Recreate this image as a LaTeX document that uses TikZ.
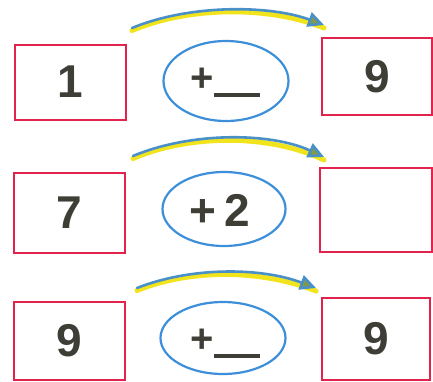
\documentclass[tikz,border=0pt]{standalone}
\usepackage{fontspec}
\setmainfont{Liberation Sans}
\usetikzlibrary{arrows.meta,shapes.geometric}
\definecolor{boxred}{HTML}{E2234E}
\definecolor{ellblue}{HTML}{3C8FD8}
\definecolor{arrblue}{HTML}{4A90C8}
\definecolor{glow}{HTML}{F2E41C}
\definecolor{digit}{HTML}{3E3E36}
\definecolor{tipfill}{HTML}{7E9A4A}
\begin{document}
\begin{tikzpicture}[x=1pt,y=1pt,
  numbox/.style={draw=boxred,line width=2.8pt,fill=white,inner sep=0pt},
  opell/.style={draw=ellblue,line width=2.2pt,ellipse,inner sep=0pt},
  num/.style={font=\fontsize{46}{46}\selectfont\bfseries,text=digit},
  glowline/.style={glow,line width=5pt,line cap=round},
  curvearrow/.style={arrblue,line width=2.6pt,line cap=round,
    -{Triangle[length=16pt,width=15pt,fill=tipfill]}}]
\useasboundingbox (0,0) rectangle (433,381);
\newcommand{\blankline}{\smash{\raisebox{-0.13em}{\rule{1.15em}{0.1em}}}}
% row 1
\node[numbox,minimum width=111pt,minimum height=75pt] (a1) at (70.5,298.5) {};
\node[num] (t1) at (70.5,299) {1};
\node[opell,minimum width=125pt,minimum height=80pt] (e1) at (226,300) {};
\node[num,font=\fontsize{40}{40}\selectfont\bfseries] (o1) at (225,301) {+\blankline};
\node[numbox,minimum width=110pt,minimum height=77pt] (b1) at (377,304.5) {};
\node[num] (r1) at (377,304) {9};
\coordinate (s1) at (132,353);
\coordinate (f1) at (324,356);
\draw[glowline] ([yshift=-2.5pt]s1) .. controls (190,375) and (270,375) .. ([yshift=-3pt]f1);
\draw[curvearrow] (s1) .. controls (190,377) and (270,376) .. (f1);
% row 2
\node[numbox,minimum width=111pt,minimum height=80pt] (a2) at (69.5,168) {};
\node[num] (t2) at (69.5,168) {7};
\node[opell,minimum width=123pt,minimum height=74pt] (e2) at (224,172) {};
\node[num] (o2) at (220,171) {+\,2};
\node[numbox,minimum width=112pt,minimum height=84pt] (b2) at (376,171) {};
\coordinate (s2) at (133,225);
\coordinate (f2) at (324,224);
\draw[glowline] ([yshift=-2.5pt]s2) .. controls (190,247) and (270,247) .. ([yshift=-3pt]f2);
\draw[curvearrow] (s2) .. controls (190,249) and (270,249) .. (f2);
% row 3
\node[numbox,minimum width=111pt,minimum height=78pt] (a3) at (69.5,40) {};
\node[num] (t3) at (69.5,40) {9};
\node[opell,minimum width=125pt,minimum height=72pt] (e3) at (223,43) {};
\node[num,font=\fontsize{40}{40}\selectfont\bfseries] (o3) at (225,40) {+\blankline};
\node[numbox,minimum width=108pt,minimum height=82pt] (b3) at (376,42) {};
\node[num] (r3) at (376,42) {9};
\coordinate (s3) at (137,93);
\coordinate (f3) at (316,93);
\draw[glowline] ([yshift=-2.5pt]s3) .. controls (190,112) and (260,112) .. ([yshift=-3pt]f3);
\draw[curvearrow] (s3) .. controls (190,114) and (260,114) .. (f3);
\end{tikzpicture}
\end{document}
